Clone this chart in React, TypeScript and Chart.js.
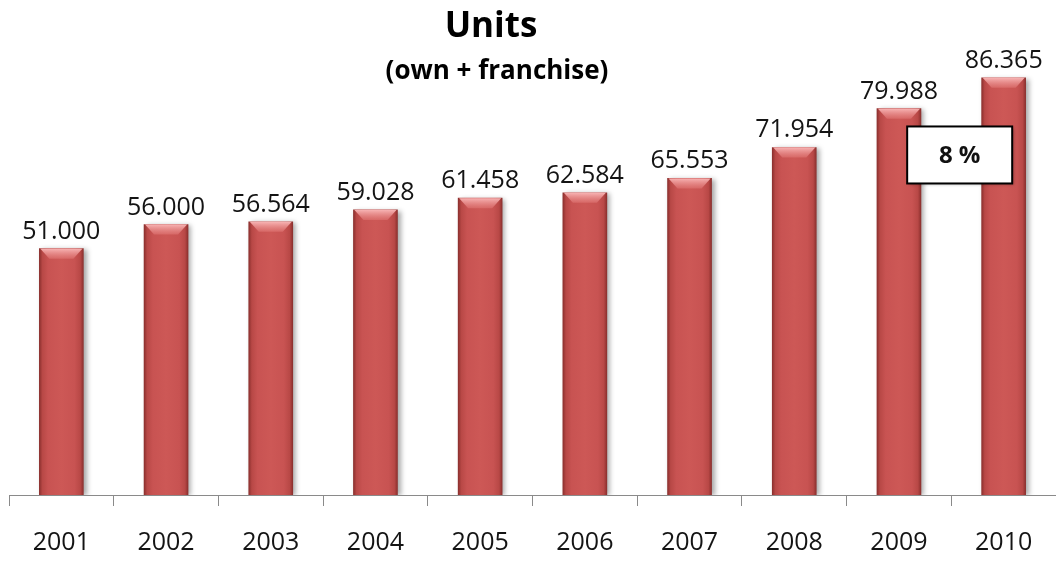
import React, { useEffect, useRef } from 'react';
import { Chart, registerables } from 'chart.js';

Chart.register(...registerables);

const categories = ['2001', '2002', '2003', '2004', '2005', '2006', '2007', '2008', '2009', '2010'];
const units = [51000, 56000, 56564, 59028, 61458, 62584, 65553, 71954, 79988, 86365];
const titleText = 'Units';
const subtitleText = '(own + franchise)';
const growthLabel = '8 %';

const FONT = "'Open Sans', 'Noto Sans', sans-serif";

const fmt = (v: number) => v.toString().replace(/\B(?=(\d{3})+(?!\d))/g, '.');

const titlePlugin = {
  id: 'customTitle',
  afterDraw(chart: any) {
    const ctx = chart.ctx;
    ctx.save();
    ctx.fillStyle = '#000';
    ctx.textAlign = 'center';
    ctx.textBaseline = 'alphabetic';
    ctx.font = `bold 35px ${FONT}`;
    ctx.fillText(titleText, 491, 37);
    ctx.font = `bold 26px ${FONT}`;
    ctx.fillText(subtitleText, 497, 79);
    ctx.restore();
  },
};

const shadowPlugin = {
  id: 'barShadow',
  beforeDatasetsDraw(chart: any) {
    const ctx = chart.ctx;
    ctx.save();
    ctx.shadowColor = 'rgba(0,0,0,0.35)';
    ctx.shadowBlur = 5;
    ctx.shadowOffsetX = 3;
    ctx.shadowOffsetY = 1;
  },
  afterDatasetsDraw(chart: any) {
    chart.ctx.restore();
  },
};

const decoPlugin = {
  id: 'barDeco',
  afterDatasetsDraw(chart: any) {
    const ctx = chart.ctx;
    const meta = chart.getDatasetMeta(0);
    meta.data.forEach((bar: any, i: number) => {
      const w = bar.width;
      const x0 = bar.x - w / 2;
      const x1 = bar.x + w / 2;
      const yt = bar.y;
      const b = 10;
      ctx.save();
      const g = ctx.createLinearGradient(0, yt, 0, yt + b);
      g.addColorStop(0, 'rgba(250,185,185,0.95)');
      g.addColorStop(1, 'rgba(225,120,118,0.55)');
      ctx.fillStyle = g;
      ctx.beginPath();
      ctx.moveTo(x0 + 1, yt);
      ctx.lineTo(x1 - 1, yt);
      ctx.lineTo(x1 - b, yt + b);
      ctx.lineTo(x0 + b, yt + b);
      ctx.closePath();
      ctx.fill();
      ctx.restore();

      ctx.save();
      ctx.fillStyle = '#141414';
      ctx.font = `25px ${FONT}`;
      ctx.textAlign = 'center';
      ctx.textBaseline = 'alphabetic';
      ctx.fillText(fmt(units[i]), bar.x, yt - 10);
      ctx.restore();
    });

    // growth annotation box
    const xs = chart.scales.x;
    const ys = chart.scales.y;
    const cx = xs.getPixelForValue(8.58);
    const cy = ys.getPixelForValue(70400);
    const bw = 105;
    const bh = 57;
    ctx.save();
    ctx.shadowColor = 'rgba(0,0,0,0.3)';
    ctx.shadowBlur = 3;
    ctx.shadowOffsetX = 2;
    ctx.shadowOffsetY = 2;
    ctx.fillStyle = '#fff';
    ctx.fillRect(cx - bw / 2, cy - bh / 2, bw, bh);
    ctx.restore();
    ctx.save();
    ctx.strokeStyle = '#000';
    ctx.lineWidth = 2;
    ctx.strokeRect(cx - bw / 2, cy - bh / 2, bw, bh);
    ctx.fillStyle = '#111';
    ctx.font = `bold 24px ${FONT}`;
    ctx.textAlign = 'center';
    ctx.textBaseline = 'middle';
    ctx.fillText(growthLabel, cx, cy + 1);
    ctx.restore();
  },
};

export default function App() {
  const ref = useRef<HTMLCanvasElement | null>(null);

  useEffect(() => {
    document.body.style.margin = '0';
    const canvas = ref.current;
    if (!canvas) return;
    const chart = new Chart(canvas, {
      type: 'bar',
      data: {
        labels: categories,
        datasets: [
          {
            label: 'Units',
            data: units,
            barThickness: 44,
            borderWidth: 0,
            backgroundColor: (c: any) => {
              const ch = c.chart;
              if (!ch.chartArea || c.dataIndex === undefined || !ch.scales.x) return '#C8504E';
              const x = ch.scales.x.getPixelForValue(c.dataIndex);
              const g = ch.ctx.createLinearGradient(x - 22, 0, x + 22, 0);
              g.addColorStop(0, '#8c302e');
              g.addColorStop(0.07, '#b84846');
              g.addColorStop(0.2, '#c85352');
              g.addColorStop(0.5, '#cd5856');
              g.addColorStop(0.8, '#c85352');
              g.addColorStop(0.93, '#b84846');
              g.addColorStop(1, '#8c302e');
              return g;
            },
          },
        ],
      },
      options: {
        responsive: false,
        animation: false,
        layout: { padding: { top: 12, left: 9, right: 0, bottom: 0 } },
        plugins: {
          legend: { display: false },
          title: { display: false },
          tooltip: { enabled: false },
        },
        scales: {
          x: {
            offset: true,
            grid: {
              display: true,
              offset: true,
              drawOnChartArea: false,
              drawTicks: true,
              tickLength: 11,
              color: '#8a8a8a',
              lineWidth: 1,
            },
            border: { display: true, color: '#8a8a8a', width: 1 },
            ticks: {
              color: '#141414',
              font: { family: FONT, size: 25 },
              padding: 22,
              maxRotation: 0,
              autoSkip: false,
            },
            afterFit: (scale: any) => {
              scale.height = 66;
            },
          },
          y: {
            display: false,
            min: 0,
            max: 100000,
          },
        },
      },
      plugins: [shadowPlugin, decoPlugin, titlePlugin],
    });
    return () => chart.destroy();
  }, []);

  return <canvas ref={ref} width={1056} height={561} style={{ display: 'block' }} />;
}
